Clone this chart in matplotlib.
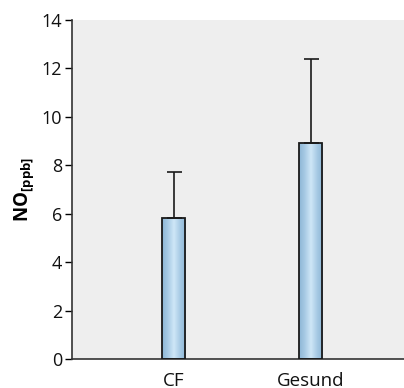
import numpy as np
import matplotlib
matplotlib.use('Agg')
import matplotlib.pyplot as plt
from matplotlib.colors import LinearSegmentedColormap

plt.rcParams['font.family'] = ['Open Sans', 'DejaVu Sans']
plt.rcParams['mathtext.fontset'] = 'custom'
plt.rcParams['mathtext.rm'] = 'Open Sans'
plt.rcParams['mathtext.bf'] = 'Open Sans:bold'

groups = ['CF', 'Gesund']
means = [5.83, 8.94]
sd_upper = [1.91, 3.45]
yticks = [0, 2, 4, 6, 8, 10, 12, 14]

fig = plt.figure(figsize=(4.04, 3.88), dpi=100)
ax = fig.add_axes([0.178, 0.0747, 0.822, 0.8737])
ax.set_facecolor('#eeeeee')

x = np.arange(len(groups))
bars = ax.bar(x, means, width=0.168, color='none', edgecolor='#1a1a1a',
              linewidth=1.3, zorder=3)

# stripe gradient inside each bar
cmap = LinearSegmentedColormap.from_list(
    'stripe', ['#8cb6d6', '#a9cbe5', '#cfe7f7', '#a9cbe5', '#8cb6d6'])
grad = np.linspace(0, 1, 64).reshape(1, -1)
for b in bars:
    x0, y0 = b.get_x(), b.get_y()
    im = ax.imshow(grad, cmap=cmap, aspect='auto', zorder=2,
                   extent=[x0, x0 + b.get_width(), y0, y0 + b.get_height()])
    im.set_clip_path(b)

ax.errorbar(x, means, yerr=[[0] * len(means), sd_upper], fmt='none',
            ecolor='#1a1a1a', elinewidth=1.2, capsize=5.4, capthick=1.2,
            zorder=4)

ax.set_xlim(-0.745, 1.679)
ax.set_ylim(0, 14)
ax.set_yticks(yticks)
ax.set_xticks(x)
ax.set_xticklabels(groups)
ax.tick_params(axis='x', length=0, labelsize=13.5, pad=9, labelcolor='#111111')
ax.tick_params(axis='y', length=5, width=1, labelsize=13, pad=2,
               labelcolor='#111111')
ax.set_ylabel(r'$\mathbf{NO_{[ppb]}}$', fontsize=13.5, labelpad=4)

for s in ['top', 'right']:
    ax.spines[s].set_visible(False)
for s in ['left', 'bottom']:
    ax.spines[s].set_color('#333333')
    ax.spines[s].set_linewidth(1.2)

plt.savefig('out.png', dpi=100)
